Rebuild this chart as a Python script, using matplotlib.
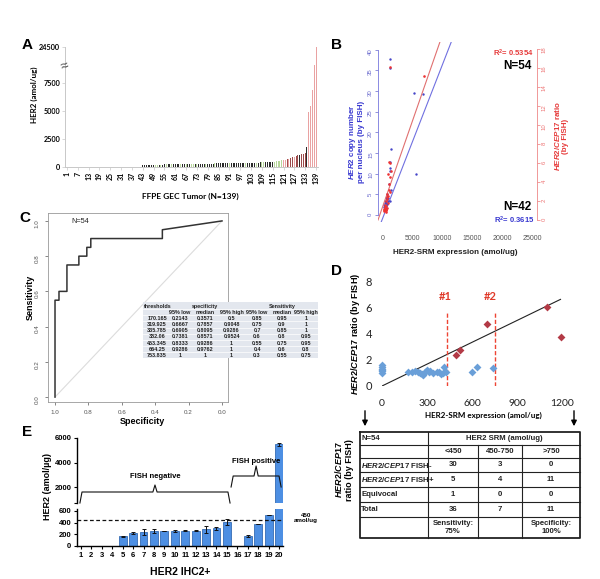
import numpy as np
import matplotlib
matplotlib.use("Agg")
import matplotlib.pyplot as plt
from matplotlib.patches import FancyArrowPatch

plt.rcParams['font.family'] = ['Liberation Sans', 'DejaVu Sans']
plt.rcParams['mathtext.fontset'] = 'custom'
plt.rcParams['mathtext.it'] = 'Liberation Sans:italic:bold'
plt.rcParams['mathtext.rm'] = 'Liberation Sans:bold'
plt.rcParams['mathtext.bf'] = 'Liberation Sans:bold'

# ---------------- DATA ----------------
# Panel A: HER2 (amol/ug) for 139 FFPE GEC tumours (sorted)
a_values = [0, 0, 0, 0, 0, 0, 0, 0, 0, 0, 0, 0, 0, 0, 0, 0, 0, 0, 0, 0, 0,
            0, 0, 0, 0, 0, 0, 0, 0, 0, 0, 0, 0, 0, 0, 0, 0, 0, 0, 0, 0, 0,
            160, 170, 175, 180, 185, 190,
            195, 200, 205, 210, 215, 220, 225, 228, 232, 236, 240, 244,
            248, 252, 255, 258, 262, 265, 268, 272, 275, 278, 280, 283,
            286, 289, 292, 295, 298, 300, 303, 306, 309, 312, 315, 318,
            320, 323, 326, 329, 332, 335, 338, 341, 344, 347, 350, 353,
            356, 360, 364, 368, 372, 376, 380, 385, 390, 395, 400, 405,
            410, 416, 422, 428, 435, 442, 450, 470, 500, 530, 560, 590,
            620, 660, 700, 740, 790, 850, 920, 1000, 1050, 1100, 1150, 1180,
            1220, 1800, 4900, 5450, 6900, 16000, 24500]
a_class = ("nnnnnnnnnnnnnnnnnnnnnnnnnnnnnnnnnnnnnnnnnn"
           "kkkkkk" "kggkgkkgkkgk" "kkkgkkgkkggk" "gkkkkgkkkkgk"
           "kkkkkkgkkkkk" "kkkgkkkkkgkk" "ggkkkkkggggg" "pprprrprrkrr"
           "rkppppp")
a_tick_ids = [1, 7, 13, 19, 25, 31, 37, 43, 49, 55, 61, 67, 73, 79, 85, 91,
              97, 103, 109, 115, 121, 127, 133, 139]
a_yticks = [0, 2500, 5000, 7500, 24500]

# Panel B: HER2-SRM vs FISH
b_ratio_x = [150, 200, 250, 300, 320, 350, 380, 400, 420, 450, 480, 500, 520,
             560, 600, 640, 700, 750, 800, 850, 900, 950, 1000, 1050, 1100,
             1170, 1200, 1300, 6880, 1170]
b_ratio_y = [1.0, 1.2, 0.9, 1.1, 1.4, 1.0, 1.3, 1.6, 1.1, 0.8, 1.2, 1.5, 2.0,
             1.1, 1.3, 2.4, 2.7, 2.2, 1.8, 4.8, 2.5, 3.2, 6.1, 3.8, 2.9,
             16.1, 4.5, 5.2, 15.1, 6.0]
b_copy_x = [100, 200, 300, 350, 400, 450, 500, 550, 600, 650, 700, 750, 800,
            900, 1000, 1100, 1170, 1200, 1250, 1300, 1170, 1200, 5200, 6700,
            5540, 1300]
b_copy_y = [2.0, 2.5, 3.0, 2.2, 3.5, 4.0, 2.8, 3.2, 4.5, 3.8, 2.6, 5.0, 4.2,
            3.4, 7.5, 10.6, 37.7, 12.8, 11.4, 15.9, 35.7, 3.4, 29.5, 29.2,
            9.9, 6.0]
b_copy_fit = (-0.58, 0.00371)    # intercept, slope
b_ratio_fit = (1.51, 0.0018)
b_xticks = [0, 5000, 10000, 15000, 20000, 25000]
b_left_ticks = [0, 5, 10, 15, 20, 25, 30, 35, 40]
b_right_ticks = [0, 2, 4, 6, 8, 10, 12, 14, 16, 18]

# Panel C: ROC
roc_spec = [1, 1, 0.9762, 0.9762, 0.9286, 0.9286, 0.8571, 0.8571, 0.8095,
            0.8095, 0.7857, 0.7857, 0.3571, 0.3571, 0]
roc_sens = [0, 0.55, 0.55, 0.6, 0.6, 0.75, 0.75, 0.8, 0.8, 0.85, 0.85, 0.9,
            0.9, 0.95, 1.0]
c_thresholds = [170.165, 319.925, 335.785, 382.06, 453.345, 664.25, 753.835]
c_spec_low = [0.2143, 0.6667, 0.6905, 0.7381, 0.8333, 0.9286, 1]
c_spec_med = [0.3571, 0.7857, 0.8095, 0.8571, 0.9286, 0.9762, 1]
c_spec_high = [0.5, 0.9048, 0.9286, 0.9524, 1, 1, 1]
c_sens_low = [0.85, 0.75, 0.7, 0.6, 0.55, 0.4, 0.3]
c_sens_med = [0.95, 0.9, 0.85, 0.8, 0.75, 0.6, 0.55]
c_sens_high = [1, 1, 1, 0.95, 0.95, 0.8, 0.75]

# Panel D
d_blue_x = [0, 0, 0, 0, 0, 0, 175, 200, 220, 240, 253, 265, 275, 287, 300,
            310, 320, 340, 364, 380, 395, 409, 424, 413, 600, 631, 742]
d_blue_y = [1.0, 1.15, 1.3, 1.45, 1.6, 1.2, 1.05, 1.1, 1.15, 1.05, 1.0, 0.95,
            0.85, 1.1, 1.2, 1.05, 1.15, 1.0, 1.1, 1.05, 0.95, 1.0, 1.05, 1.5,
            1.05, 1.5, 1.4]
d_red_x = [495, 520, 700, 1098, 1191]
d_red_y = [2.35, 2.75, 4.8, 6.1, 3.8]
d_trend_slope = 0.0056
d_trend_end = 1190
d_cutoffs = [430, 752]
d_xticks = [0, 300, 600, 900, 1200]
d_yticks = [0, 2, 4, 6, 8]
d_cols = ['<450', '450-750', '>750']
d_rows = ['$HER2/CEP17$ FISH-', '$HER2/CEP17$ FISH+', 'Equivocal', 'Total']
d_counts = [[30, 3, 0], [5, 4, 11], [1, 0, 0], [36, 7, 11]]

# Panel E
e_ids = list(range(1, 21))
e_values = [0, 0, 0, 0, 170, 225, 240, 255, 260, 262, 262, 265, 290, 300,
            410, 0, 175, 380, 535, 5500]
e_err = [0, 0, 0, 0, 8, 15, 50, 35, 0, 15, 10, 15, 60, 25, 45, 0, 20, 0, 0,
         120]
e_cutoff = 450

# ---------------- FIGURE ----------------
W, H = 600, 579
fig = plt.figure(figsize=(6.0, 5.79), dpi=100)


def px_ax(l, t, r, b, **kw):
    return fig.add_axes([l / W, 1 - b / H, (r - l) / W, (b - t) / H], **kw)


def ftext(x, y, s, **kw):
    return fig.text(x / W, 1 - y / H, s, **kw)


# ===== Panel A =====
A_K = 0.189


def a_fwd(v):
    v = np.asarray(v, float)
    return np.where(v <= 7500, v, 7500 + (v - 7500) * A_K)


def a_inv(u):
    u = np.asarray(u, float)
    return np.where(u <= 7500, u, 7500 + (u - 7500) / A_K)


cmapA = {'n': '#333333', 'k': '#2b2b2b', 'g': '#b7d79a', 'p': '#e9a2a2',
         'r': '#9c4a4a'}
axA = px_ax(65, 47, 318, 167)
a_ids = np.arange(1, len(a_values) + 1)
axA.bar(a_ids, a_values, width=0.55, color=[cmapA[c] for c in a_class])
axA.set_yscale('function', functions=(a_fwd, a_inv))
axA.set_ylim(0, 24500)
axA.set_xlim(-0.1, 140.1)
axA.set_yticks(a_yticks)
axA.set_yticklabels([str(v) for v in a_yticks], fontsize=5.2,
                    fontweight='bold', family='Lato')
axA.set_xticks(a_tick_ids)
axA.set_xticklabels([str(v) for v in a_tick_ids], rotation=90, fontsize=5,
                    fontweight='bold', family='Lato')
for s in ['top', 'right']:
    axA.spines[s].set_visible(False)
for s in ['left', 'bottom']:
    axA.spines[s].set_color('#c8c8c8')
    axA.spines[s].set_linewidth(0.7)
axA.tick_params(length=2, width=0.5, color='#c8c8c8', pad=1.5)
axA.text(0, 15500, '≈', transform=axA.get_yaxis_transform(), fontsize=10,
         ha='center', va='center', rotation=20, color='#444444')
ftext(34, 95, 'HER2 (amol/ug)', rotation=90, ha='center', va='center',
      fontsize=5.8, fontweight='bold', family='Lato')
ftext(190, 196, 'FFPE GEC Tumor (N=139)', ha='center', va='center',
      fontsize=6, fontweight='bold', family='Lato')
ftext(27, 45, 'A', fontsize=11, fontweight='bold', ha='center', va='center')

# ===== Panel B =====
blue = '#3838d0'
red = '#e63b3b'
axB = px_ax(378, 42, 537, 222)
axB.set_xlim(-840, 25840)
axB.set_ylim(-1.7, 41.9)
axB2 = axB.twinx()
axB2.set_ylim(-0.21, 18.7)
axB.scatter(b_copy_x, b_copy_y, s=3, color='#4545c8', zorder=3,
            linewidths=0)
axB2.scatter(b_ratio_x, b_ratio_y, s=3.5, color='#ee3333', zorder=3,
             linewidths=0)
axB.axline((0, b_copy_fit[0]), slope=b_copy_fit[1], color='#7070e0', lw=0.8)
axB2.axline((0, b_ratio_fit[0]), slope=b_ratio_fit[1], color='#e07070',
            lw=0.8)
for s in ['top', 'right', 'bottom']:
    axB.spines[s].set_visible(False)
for s in ['top', 'left', 'bottom']:
    axB2.spines[s].set_visible(False)
axB.spines['left'].set_color('#7777dd')
axB.spines['left'].set_bounds(0, 40)
axB.spines['left'].set_linewidth(0.6)
axB2.spines['right'].set_color('#ee8888')
axB2.spines['right'].set_bounds(0, 18)
axB2.spines['right'].set_linewidth(0.6)
axB.set_yticks(b_left_ticks)
axB.set_yticklabels([str(v) for v in b_left_ticks])
axB.tick_params(axis='y', labelrotation=90, labelsize=4.3, colors='#6666cc',
                length=2, width=0.5, pad=1.5)
axB2.set_yticks(b_right_ticks)
axB2.set_yticklabels([str(v) for v in b_right_ticks])
axB2.tick_params(axis='y', labelrotation=90, labelsize=4.3, colors='#ee7777',
                 length=2, width=0.5, pad=1.5)
axB.set_xticks(b_xticks)
axB.set_xticklabels([str(v) for v in b_xticks])
axB.tick_params(axis='x', labelsize=5, colors='#555555', length=0, pad=9)
ftext(455, 252, 'HER2-SRM expression (amol/ug)', ha='center', va='center',
      fontsize=5.8, fontweight='bold', color='#222222')
ftext(356, 142, '$HER2$ copy number\nper nucleus (by FISH)', rotation=90,
      ha='center', va='center', fontsize=5.8, fontweight='bold', color=blue,
      linespacing=1.05)
ftext(561, 136, '$HER2/CEP17$ ratio\n(by FISH)', rotation=90, ha='center',
      va='center', fontsize=5.8, fontweight='bold', color=red,
      linespacing=1.05)
ftext(534, 53, 'R$^{2}$= 0.5354', ha='right', va='center', fontsize=5.5,
      fontweight='bold', color=red)
ftext(532, 66, 'N=54', ha='right', va='center', fontsize=8.5,
      fontweight='bold')
ftext(532, 207, 'N=42', ha='right', va='center', fontsize=8.5,
      fontweight='bold')
ftext(534, 220, 'R$^{2}$= 0.3615', ha='right', va='center', fontsize=5.5,
      fontweight='bold', color=blue)
ftext(337, 45, 'B', fontsize=11, fontweight='bold', ha='center', va='center')

# ===== Panel C =====
axC = px_ax(48, 213, 228, 402)
axC.set_xlim(1.042, -0.036)
axC.set_ylim(-0.028, 1.045)
axC.plot([1, 0], [0, 1], color='#dcdcdc', lw=0.8)
axC.plot(roc_spec, roc_sens, color='#333333', lw=1.1)
for s in axC.spines.values():
    s.set_color('#999999')
    s.set_linewidth(0.6)
ct = [1.0, 0.8, 0.6, 0.4, 0.2, 0.0]
axC.set_xticks(ct)
axC.set_xticklabels([f'{v:.1f}' for v in ct])
axC.set_yticks(ct)
axC.set_yticklabels([f'{v:.1f}' for v in ct])
axC.tick_params(axis='both', labelsize=4.5, colors='#555555', length=2.5,
                width=0.5)
axC.tick_params(axis='y', labelrotation=90)
axC.text(0.13, 0.955, 'N=54', transform=axC.transAxes, fontsize=5.3,
         ha='left', va='center', color='#222222')
ftext(30, 297, 'Sensitivity', rotation=90, ha='center', va='center',
      fontsize=6.5, fontweight='bold')
ftext(142, 422, 'Specificity', ha='center', va='center', fontsize=6.5,
      fontweight='bold')
ftext(25, 218, 'C', fontsize=11, fontweight='bold', ha='center', va='center')

# table in C
axT = px_ax(143, 302, 318, 358)
axT.set_xlim(143, 318)
axT.set_ylim(358, 302)
axT.set_facecolor('#e3e7ee')
axT.set_xticks([])
axT.set_yticks([])
for s in axT.spines.values():
    s.set_visible(False)
axT.set_zorder(5)
row_y = [306, 312, 318.3, 324.5, 330.7, 336.9, 343.1, 349.3, 355.4]
for yb in [309, 315, 321.4, 327.6, 333.8, 340, 346.2, 352.4]:
    axT.axhline(yb, color='white', lw=0.5)
col_x = [157, 180, 205, 231.5, 257, 282, 306]
tkw = dict(fontsize=3.9, fontweight='bold', ha='center', va='center',
           color='#222222')
axT.text(144, row_y[0], 'thresholds', **dict(tkw, ha='left'))
axT.text(205, row_y[0], 'specificity', **tkw)
axT.text(282, row_y[0], 'Sensitivity', **tkw)
for x, lab in zip(col_x[1:], ['95% low', 'median', '95% high', '95% low',
                             'median', '95% high']):
    axT.text(x, row_y[1], lab, **tkw)
for i in range(len(c_thresholds)):
    vals = [c_thresholds[i], c_spec_low[i], c_spec_med[i], c_spec_high[i],
            c_sens_low[i], c_sens_med[i], c_sens_high[i]]
    for x, v in zip(col_x, vals):
        axT.text(x, row_y[i + 2], f'{v:g}', **tkw)

# ===== Panel D =====
axD = px_ax(382, 282, 562, 386)
axD.set_xlim(0, 1200)
axD.set_ylim(0, 8)
axD.plot([0, d_trend_end], [0, d_trend_end * d_trend_slope], color='#222222',
         lw=0.8, zorder=2)
for xc in d_cutoffs:
    axD.plot([xc, xc], [0, 5.8], ls=(0, (3, 1.5)), color='#ee4433', lw=1.0,
             zorder=2)
axD.scatter(d_blue_x, d_blue_y, marker='D', s=16, color='#6a9fd8',
            linewidths=0, zorder=3, clip_on=False)
axD.scatter(d_red_x, d_red_y, marker='D', s=16, color='#b33a46',
            linewidths=0, zorder=3, clip_on=False)
axD.text(425, 6.87, '#1', color='#e03a2a', fontsize=8, fontweight='bold',
         ha='center', va='center', family='Lato')
axD.text(720, 6.87, '#2', color='#e03a2a', fontsize=8, fontweight='bold',
         ha='center', va='center', family='Lato')
for s in axD.spines.values():
    s.set_visible(False)
axD.set_xticks(d_xticks)
axD.set_xticklabels([str(v) for v in d_xticks], family='Lato')
axD.set_yticks(d_yticks)
axD.set_yticklabels([str(v) for v in d_yticks], family='Lato')
axD.tick_params(axis='x', labelsize=7.5, length=0, pad=9, colors='#222222')
axD.tick_params(axis='y', labelsize=8, length=0, pad=7, colors='#222222')
ftext(355, 334, '$HER2/CEP17$ ratio (by FISH)', rotation=90, ha='center',
      va='center', fontsize=6.6, fontweight='bold')
ftext(483, 415, 'HER2-SRM expression (amol/ug)', ha='center', va='center',
      fontsize=5.8, fontweight='bold', family='Lato')
ftext(337, 271, 'D', fontsize=11, fontweight='bold', ha='center', va='center')
for xa in [365, 574]:
    fig.add_artist(FancyArrowPatch((xa / W, 1 - 408 / H), (xa / W, 1 - 429 / H),
                                   transform=fig.transFigure,
                                   arrowstyle='-|>', mutation_scale=8,
                                   color='black', lw=1.0))

# table in D
axDT = px_ax(355, 428, 585, 542)
axDT.set_xlim(355, 585)
axDT.set_ylim(542, 428)
axDT.axis('off')
cb = [360, 428, 478, 522, 580]
rb = [432, 445, 458, 472, 487, 502, 517, 538]
lw_in = 0.8
for y in rb[1:-1]:
    axDT.plot([cb[0], cb[-1]], [y, y], color='#222222', lw=lw_in)
axDT.plot([cb[1], cb[1]], [rb[0], rb[-1]], color='#222222', lw=lw_in)
for x in cb[2:4]:
    axDT.plot([x, x], [rb[1], rb[-1]], color='#222222', lw=lw_in)
axDT.plot([cb[0], cb[-1], cb[-1], cb[0], cb[0]],
          [rb[0], rb[0], rb[-1], rb[-1], rb[0]], color='#222222', lw=1.3)
dkw = dict(fontsize=5.6, fontweight='bold', va='center', color='#222222')
rc = [(rb[i] + rb[i + 1]) / 2 for i in range(len(rb) - 1)]
cc = [(cb[i] + cb[i + 1]) / 2 for i in range(len(cb) - 1)]
axDT.text(362, rc[0], 'N=54', ha='left', **dkw)
axDT.text((cb[1] + cb[-1]) / 2, rc[0], 'HER2 SRM (amol/ug)', ha='center',
          **dkw)
for j, lab in enumerate(d_cols):
    axDT.text(cc[j + 1], rc[1], lab, ha='center', **dkw)
for i, lab in enumerate(d_rows):
    axDT.text(361, rc[i + 2], lab, ha='left', **dkw)
    for j, v in enumerate(d_counts[i]):
        axDT.text(cc[j + 1], rc[i + 2], str(v), ha='center', **dkw)
axDT.text(cc[1], rc[6], 'Sensitivity:\n75%', ha='center', linespacing=1.3,
          **dkw)
axDT.text(cc[3], rc[6], 'Specificity:\n100%', ha='center', linespacing=1.3,
          **dkw)
ftext(338, 470, '$HER2/CEP17$', rotation=90, ha='center', va='center',
      fontsize=6.5, fontweight='bold')
ftext(349.5, 470, 'ratio (by FISH)', rotation=90, ha='center', va='center',
      fontsize=6.5, fontweight='bold')

# ===== Panel E =====
bar_col = '#4d8fe3'
edge_col = '#1e5aa8'
axElo = px_ax(77, 509, 283, 546)
axEhi = px_ax(77, 438, 283, 503)
for ax in (axElo, axEhi):
    ax.bar(e_ids, e_values, width=0.76, color=bar_col, edgecolor=edge_col,
           linewidth=0.5, yerr=e_err, capsize=1.5,
           error_kw=dict(lw=0.7, capthick=0.7, ecolor='#111111'))
    ax.set_xlim(0.62, 20.38)
    for s in ['top', 'right']:
        ax.spines[s].set_visible(False)
    ax.spines['left'].set_linewidth(1.0)
axElo.set_ylim(0, 633)
axEhi.set_ylim(694, 6000)
axEhi.spines['bottom'].set_visible(False)
axEhi.set_xticks([])
axElo.spines['bottom'].set_linewidth(1.0)
axElo.axhline(e_cutoff, ls=(0, (3, 2)), color='#111111', lw=0.9)
axElo.set_yticks([0, 200, 400, 600])
axElo.set_yticklabels(['0', '200', '400', '600'], fontweight='bold')
axEhi.set_yticks([694, 2000, 4000, 6000])
axEhi.set_yticklabels(['', '2000', '4000', '6000'], fontweight='bold')
axElo.set_xticks(e_ids)
axElo.set_xticklabels([str(v) for v in e_ids], fontweight='bold')
for ax in (axElo, axEhi):
    ax.tick_params(labelsize=5.5, length=2.5, width=0.8, pad=1.5)


def brace(ax, x0, x1, ybar, yend, ytip):
    xm = (x0 + x1) / 2
    xs = [x0, x0 + 0.2, xm - 0.2, xm, xm + 0.2, x1 - 0.2, x1]
    ys = [yend, ybar, ybar, ytip, ybar, ybar, yend]
    ax.plot(xs, ys, color='#111111', lw=0.8, clip_on=False)


brace(axEhi, 0.9, 15.3, 1592, 694, 2163)
brace(axEhi, 15.4, 20.2, 2898, 2000, 3714)
axEhi.text(8.1, 2898, 'FISH negative', ha='center', va='center',
           fontsize=5.5, fontweight='bold')
axEhi.text(17.8, 4041, 'FISH positive', ha='center', va='center',
           fontsize=5.5, fontweight='bold')
ftext(306, 518, '450\namol/ug', ha='center', va='center', fontsize=4.5,
      fontweight='bold', linespacing=1.2)
ftext(47, 487, 'HER2 (amol/µg)', rotation=90, ha='center', va='center',
      fontsize=6.5, fontweight='bold')
ftext(180, 572, 'HER2 IHC2+', ha='center', va='center', fontsize=7.5,
      fontweight='bold')
ftext(27, 432, 'E', fontsize=11, fontweight='bold', ha='center', va='center')

fig.savefig('out.png', dpi=100, facecolor='white')
